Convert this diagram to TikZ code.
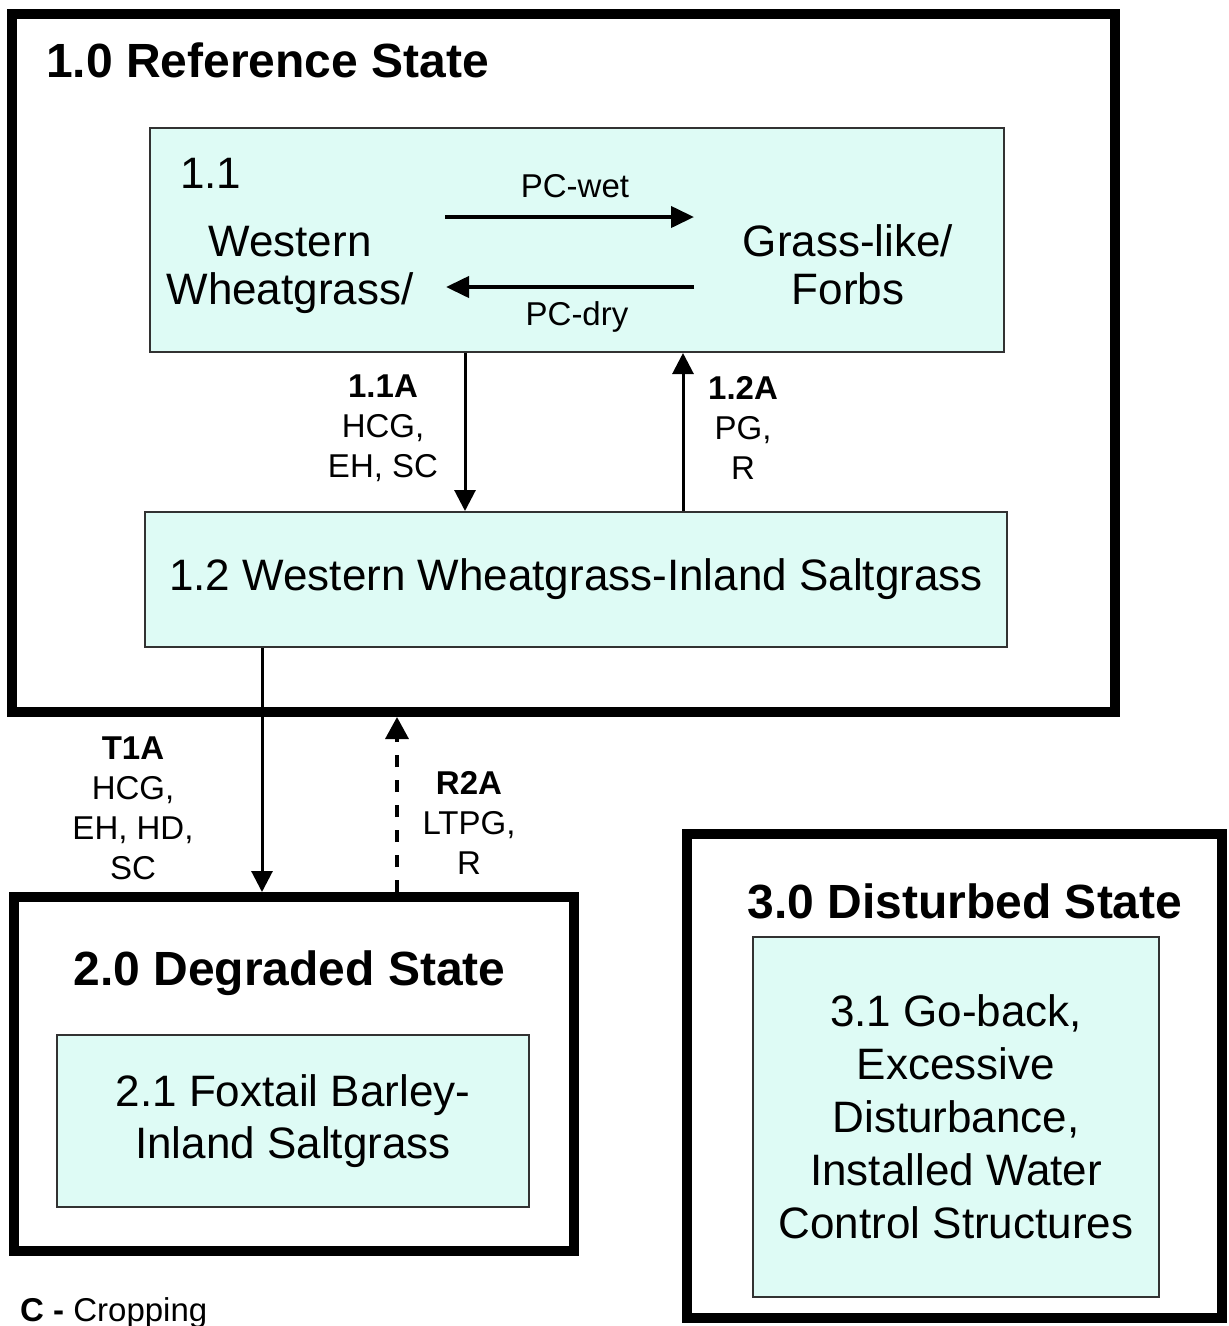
\documentclass[tikz,border=0pt]{standalone}
\usepackage{fontspec}
\setmainfont{Liberation Sans}
\usetikzlibrary{arrows.meta}
\definecolor{boxfill}{RGB}{222,251,245}
\definecolor{boxline}{RGB}{50,50,50}
\begin{document}
\begin{tikzpicture}[x=1pt,y=-1pt,
  statebox/.style={draw=black,line width=10pt,inner sep=0pt},
  phase/.style={draw=boxline,line width=2pt,fill=boxfill,inner sep=0pt,align=center,font=\fontsize{44}{52}\selectfont},
  arr/.style={line width=3pt,-{Triangle[length=21pt,width=21pt]}},
  harr/.style={line width=4pt,-{Triangle[length=23pt,width=21pt]}},
  lbl/.style={font=\fontsize{33}{40}\selectfont,align=center,inner sep=0pt},
  big/.style={font=\fontsize{44}{48}\selectfont,align=center,inner sep=0pt},
  ttl/.style={font=\bfseries\fontsize{48}{56}\selectfont,inner sep=0pt}]
\useasboundingbox[fill=white] (0,0) rectangle (1229,1326);

% state boxes
\node[statebox,minimum width=1103pt,minimum height=698pt] (s1) at (563.5,363) {};
\node[statebox,minimum width=560pt,minimum height=354pt] (s2) at (294,1074) {};
\node[statebox,minimum width=535pt,minimum height=484pt] (s3) at (954.5,1076) {};

\node[ttl,anchor=base west] (t1) at (46,77) {1.0 Reference State};
\node[ttl,anchor=base] (t2) at (289.5,985) {2.0 Degraded State};
\node[ttl,anchor=base] (t3) at (965,918) {3.0 Disturbed State};

% community phases
\node[phase,minimum width=854pt,minimum height=224pt] (b11) at (577,240) {};
\node[phase,minimum width=862pt,minimum height=135pt] (b12) at (576,579.5) {1.2 Western Wheatgrass-Inland Saltgrass};
\node[phase,minimum width=472pt,minimum height=172pt] (b21) at (293,1121) {2.1 Foxtail Barley-\\Inland Saltgrass};
\node[phase,minimum width=406pt,minimum height=360pt,font=\fontsize{44}{53}\selectfont] (b31) at (956,1117) {3.1 Go-back,\\Excessive\\Disturbance,\\Installed Water\\Control Structures};

% text inside 1.1
\node[big,anchor=base west] (n11) at (180,188) {1.1};
\node[big] (ww) at (290,270) {Western\\Wheatgrass/};
\node[big] (gf) at (848,265) {Grass-like/\\Forbs};

% pathways inside 1.1
\coordinate (wA) at (445,217);
\coordinate (wB) at (694,217);
\coordinate (dA) at (694,287);
\coordinate (dB) at (446,287);
\draw[harr] (wA) -- (wB);
\draw[harr] (dA) -- (dB);
\node[lbl,anchor=base] (pcw) at (575,197) {PC-wet};
\node[lbl,anchor=base] (pcd) at (577,325) {PC-dry};

% pathways between phases
\coordinate (x1) at (465,0);
\coordinate (x2) at (683,0);
\coordinate (x3) at (262,0);
\coordinate (x4) at (397,0);
\draw[arr] (b11.south -| x1) -- (b12.north -| x1);
\draw[arr] (b12.north -| x2) -- (b11.south -| x2);
\draw[arr] (b12.south -| x3) -- (s2.north -| x3);
\draw[arr,line width=3.5pt,dash pattern=on 12pt off 13pt,-{Triangle[length=22pt,width=23pt]}] (s2.north -| x4) -- (s1.south -| x4);

\node[lbl] (l11a) at (383,428) {\textbf{1.1A}\\HCG,\\EH, SC};
\node[lbl] (l12a) at (743,428) {\textbf{1.2A}\\PG,\\R};
\node[lbl] (lt1a) at (133,808) {\textbf{T1A}\\HCG,\\EH, HD,\\SC};
\node[lbl] (lr2a) at (469,823) {\textbf{R2A}\\LTPG,\\R};

\node[lbl,anchor=base west] (leg) at (20,1321) {\textbf{C -} Cropping};
\end{tikzpicture}
\end{document}
